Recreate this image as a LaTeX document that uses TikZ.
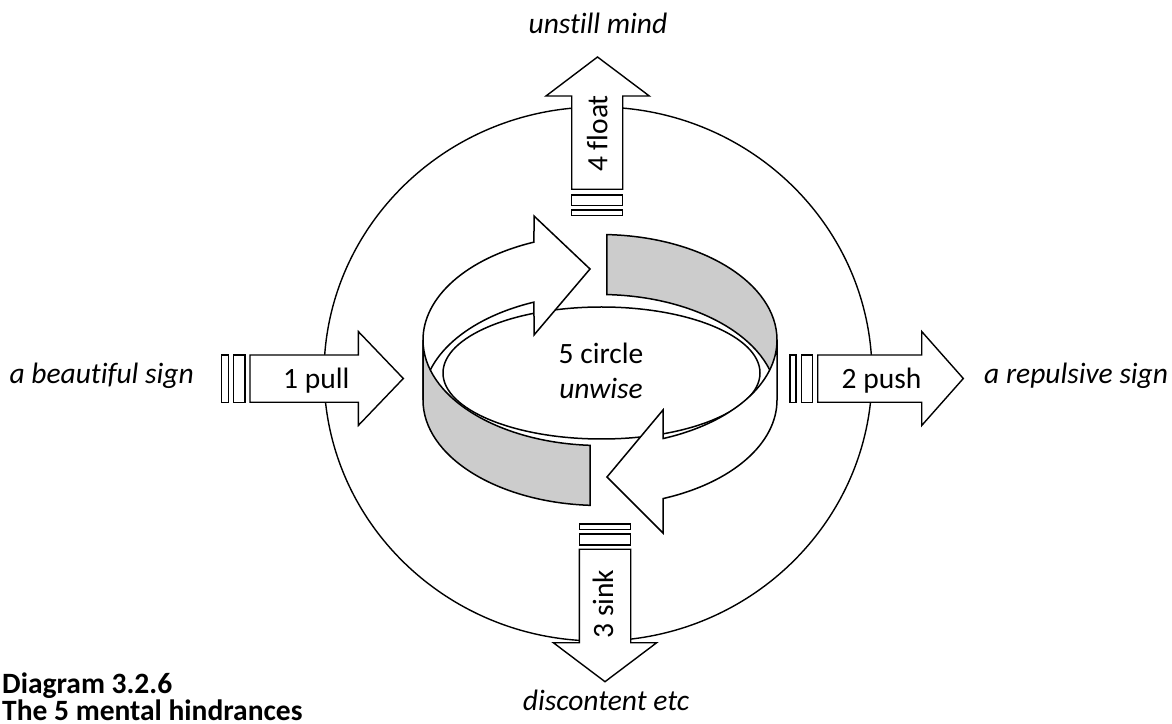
\documentclass[tikz,border=0pt]{standalone}
\usepackage{fontspec}
\setmainfont{Carlito}[Ligatures={NoCommon,NoContextual}]
\definecolor{panelgray}{HTML}{CCCCCC}
\begin{document}
\begin{tikzpicture}[x=1pt,y=1pt,
  outline/.style={draw=black,line width=1.4pt},
  shapebox/.style={draw=black,line width=1.4pt,fill=white},
  ringpart/.style={draw=black,line width=1.5pt},
  lbl/.style={font=\fontsize{29.5}{34}\selectfont,inner sep=0pt},
  ET/.style={x radius=177pt,y radius=105.5pt},
  EB/.style={x radius=177pt,y radius=105.5pt}]
\useasboundingbox (0,0) rectangle (1172,723);
\clip (0,0) rectangle (1172,723);

% big circle
\draw[outline] (598,349) ellipse[x radius=274pt,y radius=267pt];

% 1 pull
\draw[shapebox] (221.7,320.7) rectangle (228.3,368);
\draw[shapebox] (233.3,320.7) rectangle (245,368);
\draw[shapebox] (250,368) -- (358.3,368) -- (358.3,391.5) -- (403.3,344.5) -- (358.3,297.5) -- (358.3,320.7) -- (250,320.7) -- cycle;
% 2 push
\draw[shapebox] (790,320.7) rectangle (796,368);
\draw[shapebox] (801.7,320.7) rectangle (812.7,368);
\draw[shapebox] (817.7,368) -- (921.7,368) -- (921.7,391.5) -- (963.3,344.5) -- (921.7,297.5) -- (921.7,320.7) -- (817.7,320.7) -- cycle;
% 4 float
\draw[shapebox] (571.7,517.3) rectangle (622.7,528);
\draw[shapebox] (571.7,507.3) rectangle (622.7,513);
\draw[shapebox] (571.7,533.7) -- (571.7,627) -- (546,627) -- (597.5,666) -- (649.3,627) -- (622.7,627) -- (622.7,533.7) -- cycle;
% 3 sink
\draw[shapebox] (579.3,193.7) rectangle (630.7,199);
\draw[shapebox] (579.3,178) rectangle (630.7,189);
\draw[shapebox] (579.3,173.7) -- (579.3,80.3) -- (553.3,80.3) -- (605,41.3) -- (656.7,80.3) -- (630.7,80.3) -- (630.7,173.7) -- cycle;

% 5 circle ring
\draw[ringpart] (601.5,350) ellipse[x radius=158.5pt,y radius=66pt];
% back right gray panel (inner face)
\draw[ringpart,fill=panelgray] ({600+177*cos(87.8)},{383+105.5*sin(87.8)}) arc[start angle=87.8,end angle=0,ET] -- (777,323) arc[start angle=0,end angle=87.8,EB] -- cycle;
% back left white arrow
\draw[ringpart,fill=white] (423,383) arc[start angle=180,end angle=111.9,ET] -- (534,507) -- (590,454) -- (534,388) -- ({600+177*cos(111.9)},{323+105.5*sin(111.9)}) arc[start angle=111.9,end angle=180,EB] -- cycle;
% front left gray panel (outer face)
\draw[ringpart,fill=panelgray] (423,383) arc[start angle=180,end angle=266.8,ET] -- ({600+177*cos(266.8)},{323+105.5*sin(266.8)}) arc[start angle=266.8,end angle=180,EB] -- cycle;
% front right white arrow
\draw[ringpart,fill=white] ({600+177*cos(290.9)},{383+105.5*sin(290.9)}) arc[start angle=290.9,end angle=360,ET] -- (777,323) arc[start angle=360,end angle=290.9,EB] -- (663,190) -- (607,246) -- (663,313) -- cycle;

% labels
\node[lbl,anchor=base east] (beautiful) at (194,339.5) {\itshape a beautiful sign};
\node[lbl,anchor=base west] (repulsive) at (984,339.5) {\itshape a repulsive sign};
\node[lbl,anchor=base west] (pull) at (283,334) {1 pull};
\node[lbl,anchor=base west] (push) at (841.5,334) {2 push};
\node[lbl,anchor=base,rotate=90] (float) at (607.3,589.5) {4 float};
\node[lbl,anchor=base,rotate=90] (sink) at (613,119) {3 sink};
\node[lbl,anchor=base] (circ) at (601,359.7) {5 circle};
\node[lbl,anchor=base] (unwise) at (601,324) {\itshape unwise};
\node[lbl,anchor=base] (unstill) at (598,689) {\itshape unstill mind};
\node[lbl,anchor=base] (discontent) at (606,13) {\itshape discontent etc};
\node[lbl,anchor=base west] (title1) at (2,30) {\bfseries Diagram 3.2.6};
\node[lbl,anchor=base west] (title2) at (2,3) {\bfseries The 5 mental hindrances};
\end{tikzpicture}
\end{document}
